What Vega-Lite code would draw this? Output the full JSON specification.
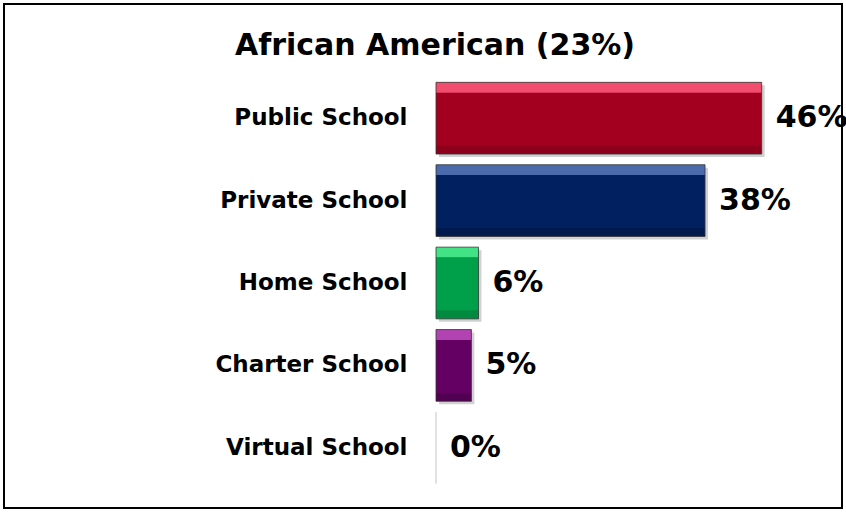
{
  "$schema": "https://vega.github.io/schema/vega-lite/v6.json",
  "width": 838,
  "height": 504,
  "autosize": {"type": "none"},
  "padding": {"left": 4, "top": 4, "right": 4, "bottom": 4},
  "background": "white",
  "config": {"view": {"stroke": "black", "strokeWidth": 2}, "font": "DejaVu Sans"},
  "title": {
    "text": "African American (23%)",
    "anchor": "middle",
    "offset": -57,
    "dx": 12,
    "fontSize": 30,
    "font": "DejaVu Sans",
    "fontWeight": "bold",
    "color": "black"
  },
  "data": {
    "values": [
      {"school": "Public School", "share": 0.46},
      {"school": "Private School", "share": 0.38},
      {"school": "Home School", "share": 0.06},
      {"school": "Charter School", "share": 0.05},
      {"school": "Virtual School", "share": 0.0}
    ]
  },
  "encoding": {
    "y": {
      "field": "school",
      "type": "nominal",
      "sort": null,
      "scale": {"range": [73, 485], "paddingInner": 0.13, "paddingOuter": 0.065},
      "axis": {
        "title": null,
        "offset": -432,
        "domain": false,
        "ticks": false,
        "labelPadding": 29,
        "labelFontSize": 23,
        "labelLimit": 400,
        "labelFont": "DejaVu Sans",
        "labelFontWeight": "bold",
        "labelColor": "black"
      }
    },
    "x": {
      "field": "share",
      "type": "quantitative",
      "scale": {"domain": [0, 0.5], "range": [432, 786]},
      "axis": null
    }
  },
  "layer": [
    {
      "mark": {"type": "bar", "color": "black", "opacity": 0.18, "xOffset": 3, "yOffset": 3}
    },
    {
      "transform": [{"filter": "datum.school === 'Public School'"}],
      "mark": {
        "type": "bar",
        "fill": {"gradient": "linear", "x1": 0, "y1": 0, "x2": 0, "y2": 1,
          "stops": [{"offset": 0, "color": "#F24C6E"}, {"offset": 0.14, "color": "#F24C6E"}, {"offset": 0.145, "color": "#A3001F"}, {"offset": 0.88, "color": "#A3001F"}, {"offset": 0.885, "color": "#8C001B"}, {"offset": 1, "color": "#8C001B"}]}
      }
    },
    {
      "transform": [{"filter": "datum.school === 'Private School'"}],
      "mark": {
        "type": "bar",
        "fill": {"gradient": "linear", "x1": 0, "y1": 0, "x2": 0, "y2": 1,
          "stops": [{"offset": 0, "color": "#4B6AAB"}, {"offset": 0.14, "color": "#4B6AAB"}, {"offset": 0.145, "color": "#002060"}, {"offset": 0.88, "color": "#002060"}, {"offset": 0.885, "color": "#001A4E"}, {"offset": 1, "color": "#001A4E"}]}
      }
    },
    {
      "transform": [{"filter": "datum.school === 'Home School'"}],
      "mark": {
        "type": "bar",
        "fill": {"gradient": "linear", "x1": 0, "y1": 0, "x2": 0, "y2": 1,
          "stops": [{"offset": 0, "color": "#42E384"}, {"offset": 0.14, "color": "#42E384"}, {"offset": 0.145, "color": "#00A04B"}, {"offset": 0.88, "color": "#00A04B"}, {"offset": 0.885, "color": "#008A40"}, {"offset": 1, "color": "#008A40"}]}
      }
    },
    {
      "transform": [{"filter": "datum.school === 'Charter School'"}],
      "mark": {
        "type": "bar",
        "fill": {"gradient": "linear", "x1": 0, "y1": 0, "x2": 0, "y2": 1,
          "stops": [{"offset": 0, "color": "#B244B2"}, {"offset": 0.14, "color": "#B244B2"}, {"offset": 0.145, "color": "#640064"}, {"offset": 0.88, "color": "#640064"}, {"offset": 0.885, "color": "#520052"}, {"offset": 1, "color": "#520052"}]}
      }
    },
    {
      "mark": {"type": "bar", "filled": false, "stroke": "#333333", "strokeWidth": 1},
      "encoding": {
        "strokeOpacity": {"condition": {"test": "datum.share === 0", "value": 0.15}, "value": 0.8}
      }
    },
    {
      "mark": {
        "type": "text",
        "align": "left",
        "baseline": "middle",
        "dx": 14,
        "fontSize": 30,
        "font": "DejaVu Sans",
        "fontWeight": "bold",
        "color": "black"
      },
      "encoding": {"text": {"field": "share", "type": "quantitative", "format": ".0%"}}
    }
  ]
}
